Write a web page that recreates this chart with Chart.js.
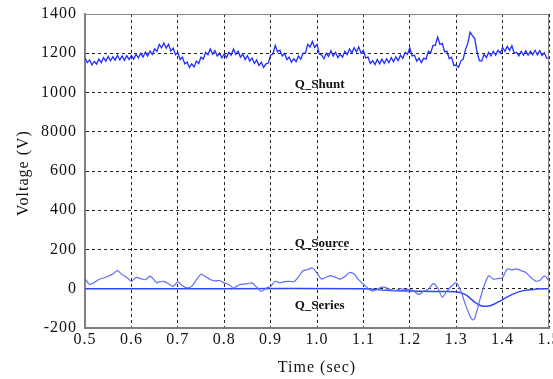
<!DOCTYPE html>
<html>
<head>
<meta charset="utf-8">
<script src="https://cdn.jsdelivr.net/npm/chart.js@4/dist/chart.umd.min.js"></script>
<style>
  html, body { margin: 0; padding: 0; background: #fff; }
  #wrap { width: 553px; height: 379px; position: relative; }
</style>
</head>
<body>
<div id="wrap"><canvas id="chart"></canvas></div>
<script>
// y tick labels as printed on the original (note the "8000")
const yTickLabels = { '1400': '1400', '1200': '1200', '1000': '1000', '800': '8000', '600': '600', '400': '400', '200': '200', '0': '0', '-200': '-200' };

// Q_Shunt sampled every 0.005 s from 0.5 to 1.5
const shuntStart = 0.5;
const shuntStep = 0.005;
const shuntVals = [
  1176,1152,1166,1140,1158,1145,1170,1152,1178,1160,1184,1162,1182,1165,1190,1166,1186,1164,1188,1168,
  1189,1170,1195,1176,1200,1180,1206,1186,1211,1194,1222,1210,1245,1228,1252,1226,1246,1212,1226,1192,
  1204,1168,1180,1146,1155,1128,1146,1130,1160,1148,1180,1170,1205,1192,1222,1196,1214,1186,1200,1176,
  1196,1178,1205,1190,1222,1194,1210,1180,1195,1168,1188,1160,1176,1148,1166,1138,1154,1128,1146,1150,
  1190,1196,1240,1208,1215,1186,1200,1168,1180,1154,1172,1157,1186,1170,1200,1200,1245,1232,1260,1230,
  1245,1196,1190,1172,1200,1184,1213,1186,1205,1178,1196,1180,1210,1193,1222,1202,1228,1207,1232,1200,
  1215,1176,1180,1148,1162,1142,1168,1146,1170,1148,1172,1152,1178,1157,1182,1163,1190,1174,1205,1194,
  1228,1186,1190,1160,1175,1152,1175,1170,1210,1202,1240,1240,1283,1245,1250,1208,1210,1172,1180,1138,
  1140,1128,1160,1170,1220,1250,1308,1290,1275,1205,1162,1160,1195,1178,1205,1186,1210,1190,1215,1200,
  1230,1210,1235,1215,1238,1200,1205,1186,1210,1190,1213,1190,1210,1192,1215,1192,1213,1188,1203,1175,
  1175
];

// Q_Source
const sourceTime = [
  0.50,0.51,0.52,0.53,0.54,0.55,0.56,0.57,0.58,0.59,0.60,0.61,0.62,0.63,0.64,0.65,0.655,0.66,0.67,0.68,
  0.69,0.70,0.71,0.72,0.73,0.74,0.75,0.76,0.77,0.78,0.79,0.80,0.81,0.82,0.83,0.84,0.85,0.86,0.87,0.88,
  0.89,0.90,0.91,0.92,0.93,0.94,0.95,0.96,0.97,0.98,0.99,1.00,1.01,1.02,1.03,1.04,1.05,1.06,1.07,1.08,
  1.09,1.10,1.11,1.12,1.13,1.14,1.15,1.16,1.17,1.18,1.19,1.20,1.21,1.22,1.23,1.24,1.25,1.26,1.27,1.28,
  1.29,1.30,1.31,1.32,1.33,1.335,1.34,1.35,1.36,1.37,1.38,1.39,1.40,1.41,1.42,1.43,1.44,1.45,1.46,1.47,
  1.48,1.49,1.50
];
const sourceVals = [
  52,22,32,47,55,64,75,92,72,58,38,58,52,46,64,42,30,35,38,25,
  12,35,15,4,12,45,74,62,47,40,42,30,22,3,18,24,26,30,8,-14,
  3,12,38,30,36,38,36,60,92,98,106,80,49,60,66,58,49,62,83,75,
  45,23,2,-12,-2,8,5,-6,-9,0,-3,-3,-15,-29,-12,-3,26,5,-43,-12,
  14,31,-12,-81,-140,-159,-150,-64,14,66,49,52,57,101,96,101,92,83,60,40,
  42,66,40
];

// Q_Series
const seriesTime = [0.50, 0.80, 1.10, 1.15, 1.20, 1.25, 1.30, 1.32, 1.34, 1.355, 1.37, 1.38, 1.40, 1.42, 1.44, 1.47, 1.50];
const seriesVals = [0, 0, 0, -8, -12, -14, -15, -30, -68, -88, -88, -80, -55, -30, -12, -2, 0];

// curve labels: [text, time, value]
const curveLabels = [
  ['Q_Shunt', 0.952, 1040],
  ['Q_Source', 0.952, 228],
  ['Q_Series', 0.952, -88]
];

const shuntPoints = shuntVals.map((v, i) => ({ x: shuntStart + i * shuntStep, y: v }));
const sourcePoints = sourceVals.map((v, i) => ({ x: sourceTime[i], y: v }));
const seriesPoints = seriesVals.map((v, i) => ({ x: seriesTime[i], y: v }));

const serif = 'Liberation Serif, Times New Roman, serif';

const textPlugin = {
  id: 'textPlugin',
  beforeDraw(chart) {
    // the original print has widely spaced axis digits
    chart.ctx.letterSpacing = '1px';
  },
  afterDraw(chart) {
    const ctx = chart.ctx;
    const area = chart.chartArea;
    const xs = chart.scales.x, ys = chart.scales.y;
    ctx.save();
    // top and right frame
    ctx.strokeStyle = '#888';
    ctx.lineWidth = 1;
    ctx.beginPath();
    ctx.moveTo(area.left, area.top + 0.5);
    ctx.lineTo(area.right - 0.5, area.top + 0.5);
    ctx.lineTo(area.right - 0.5, area.bottom);
    ctx.stroke();

    ctx.letterSpacing = '0px';
    ctx.fillStyle = '#111';
    ctx.font = 'bold 13px ' + serif;
    ctx.textBaseline = 'middle';
    ctx.textAlign = 'left';
    curveLabels.forEach(l => {
      ctx.fillText(l[0], xs.getPixelForValue(l[1]), ys.getPixelForValue(l[2]));
    });

    ctx.letterSpacing = '1px';
    ctx.font = '16px ' + serif;
    ctx.textAlign = 'center';
    ctx.fillText('Time (sec)', (area.left + area.right) / 2, 368);
    ctx.translate(24, (area.top + area.bottom) / 2 + 2);
    ctx.rotate(-Math.PI / 2);
    ctx.fillText('Voltage (V)', 0, 0);
    ctx.restore();
  }
};

new Chart(document.getElementById('chart'), {
  type: 'line',
  data: {
    datasets: [
      { label: 'Q_Shunt', data: shuntPoints, borderColor: '#1f2cff', borderWidth: 1.3, pointRadius: 0, tension: 0 },
      { label: 'Q_Source', data: sourcePoints, borderColor: '#5b6cff', borderWidth: 1.2, pointRadius: 0, tension: 0.25 },
      { label: 'Q_Series', data: seriesPoints, borderColor: '#2f45ff', borderWidth: 1.5, pointRadius: 0, tension: 0.3 }
    ]
  },
  options: {
    responsive: true,
    maintainAspectRatio: false,
    animation: false,
    layout: { padding: { top: 14, right: 4, left: 0, bottom: 0 } },
    plugins: { legend: { display: false }, tooltip: { enabled: false } },
    scales: {
      x: {
        type: 'linear',
        min: 0.5, max: 1.5,
        afterFit: s => { s.height = 51; s.paddingRight = 0; s.paddingLeft = 0; },
        ticks: {
          stepSize: 0.1,
          padding: 2,
          color: '#111',
          font: { family: serif, size: 16 },
          callback: v => v.toFixed(1)
        },
        grid: { color: '#222', lineWidth: 1, drawTicks: false, tickLength: 0 },
        border: { color: '#808080', width: 2, dash: [3, 3] }
      },
      y: {
        min: -200, max: 1400,
        afterFit: s => { s.width = 85; s.paddingTop = 0; s.paddingBottom = 0; },
        ticks: {
          stepSize: 200,
          padding: 8,
          color: '#111',
          font: { family: serif, size: 16 },
          callback: v => yTickLabels[String(v)]
        },
        grid: { color: '#222', lineWidth: 1, drawTicks: false, tickLength: 0 },
        border: { color: '#808080', width: 2, dash: [3, 3] }
      }
    }
  },
  plugins: [textPlugin]
});
</script>
</body>
</html>
